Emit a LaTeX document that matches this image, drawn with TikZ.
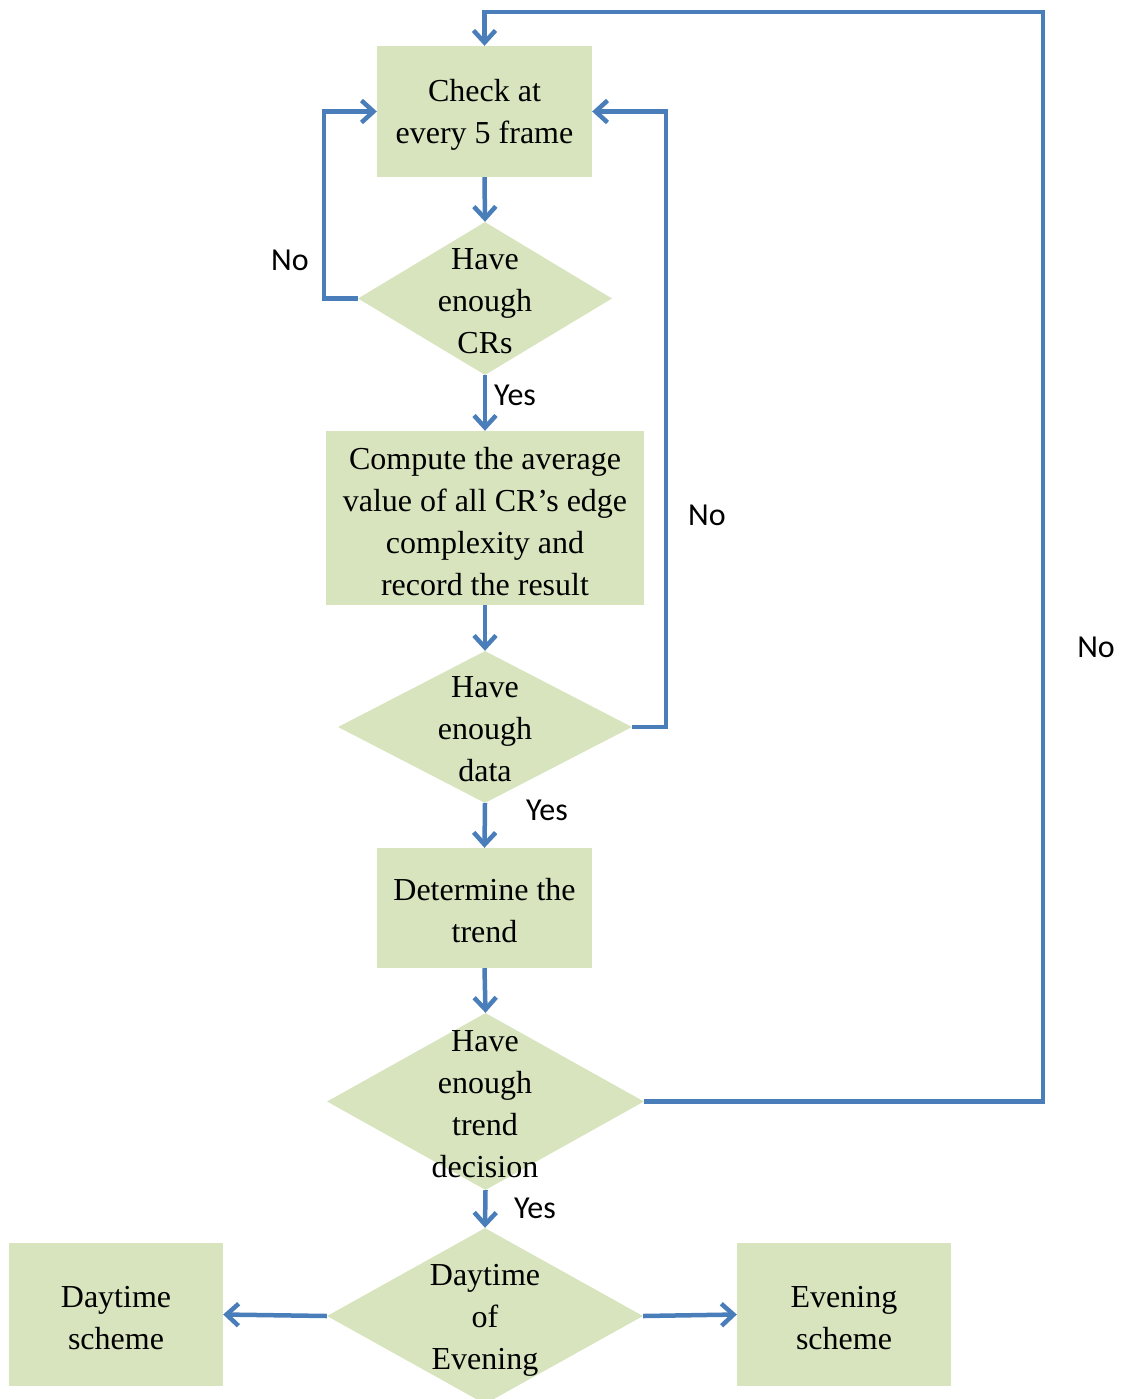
\documentclass[tikz,border=0pt]{standalone}
\usepackage{fontspec}
\setmainfont{Liberation Serif}
\newfontfamily\lblfont{Carlito}
\usetikzlibrary{shapes.geometric,arrows.meta}
\definecolor{boxfill}{RGB}{215,228,189}
\definecolor{arrblue}{RGB}{74,126,187}
\begin{document}
\begin{tikzpicture}[x=1pt,y=-1pt,
  box/.style={fill=boxfill,draw=none,inner sep=0,align=center,font=\fontsize{32}{42}\selectfont},
  dia/.style={diamond,fill=boxfill,draw=none,inner sep=0},
  dtext/.style={inner sep=0,align=center,font=\fontsize{32}{42}\selectfont},
  arr/.style={draw=arrblue,line width=4.5pt,-{Straight Barb[length=12pt,width=22pt,line width=4.5pt]}},
  lbl/.style={inner sep=0,font=\lblfont\fontsize{32}{38}\selectfont}]
\useasboundingbox (0,0) rectangle (1124,1399);
% boxes
\node[box,minimum width=215,minimum height=131] (b1) at (484.5,111.5) {};
\node[dtext] (bt1) at (484.5,114.5) {Check at\\every 5 frame};
\node[box,minimum width=318,minimum height=174] (b2) at (485,518) {};
\node[dtext] (bt2) at (485,522) {Compute the average\\value of all CR's edge\\complexity and\\record the result};
\node[box,minimum width=215,minimum height=120] (b3) at (484.5,908) {};
\node[dtext] (bt3) at (484.5,911) {Determine the\\trend};
\node[box,minimum width=214,minimum height=143] (day) at (116,1314.5) {};
\node[dtext] (dayt) at (116,1318) {Daytime\\scheme};
\node[box,minimum width=214,minimum height=143] (eve) at (844,1314.5) {};
\node[dtext] (evet) at (844,1318) {Evening\\scheme};
% diamonds
\node[dia,minimum width=254,minimum height=153] (d1) at (485,298.5) {};
\node[dtext] (t1) at (485,301) {Have\\enough\\CRs};
\node[dia,minimum width=294,minimum height=152] (d2) at (485,727) {};
\node[dtext] (t2) at (485,729) {Have\\enough\\data};
\node[dia,minimum width=317,minimum height=177] (d3) at (485.5,1101.5) {};
\node[dtext] (t3) at (485,1104) {Have\\enough\\trend\\decision};
\node[dia,minimum width=316,minimum height=176] (d4) at (485,1316) {};
\node[dtext] (t4) at (485,1320) {Daytime\\of\\Evening};
% coordinates
\coordinate (top) at (1043,12);
% connectors
\draw[arr] (b1.south) -- (d1.north);
\draw[arr] (d1.west) -- ++(-34,0) |- (b1.west);
\draw[arr] (d1.south) -- (b2.north);
\draw[arr] (b2.south) -- (d2.north);
\draw[arr] (d2.east) -- ++(34,0) |- (b1.east);
\draw[arr] (d2.south) -- (b3.north);
\draw[arr] (b3.south) -- (d3.north);
\draw[arr] (d3.east) -| (top) -| (b1.north);
\draw[arr] (d3.south) -- (d4.north);
\draw[arr] (d4.west) -- (day.east);
\draw[arr] (d4.east) -- (eve.west);
% labels
\node[lbl] (n1) at (290,260) {No};
\node[lbl,anchor=west] (y1) at (494,395) {Yes};
\node[lbl] (n2) at (707,515) {No};
\node[lbl] (y2) at (547,810) {Yes};
\node[lbl] (n3) at (1096,647) {No};
\node[lbl] (y3) at (535,1208) {Yes};
\end{tikzpicture}
\end{document}
